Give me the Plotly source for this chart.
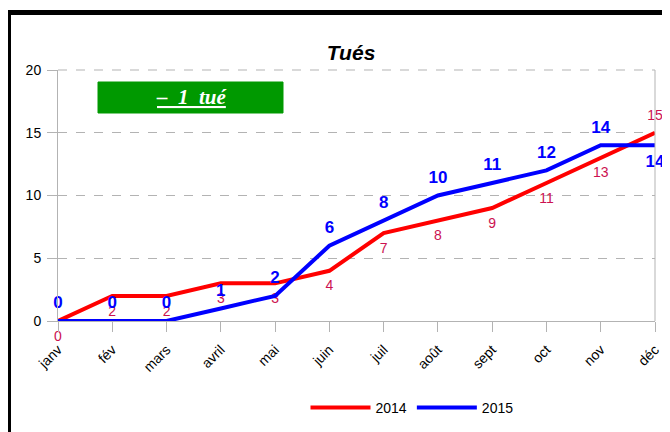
import plotly.graph_objects as go

months = ["janv", "fév", "mars", "avril", "mai", "juin", "juil", "août", "sept", "oct", "nov", "déc"]
vals_2014 = [0, 2, 2, 3, 3, 4, 7, 8, 9, 11, 13, 15]
vals_2015 = [0, 0, 0, 1, 2, 6, 8, 10, 11, 12, 14, 14]
pos_2014 = ["bottom center"] * 11 + ["top center"]
pos_2015 = ["top center"] * 11 + ["bottom center"]

OFF = 8  # default page body margin
W, H = 670 - OFF, 432 - OFF
L, T = 58 - OFF, 70 - OFF
R = W - (655 - OFF)
B = H - (321 - OFF)
pw, ph = W - L - R, H - T - B

def px(x):  # screen x -> paper
    return (x - OFF - L) / pw

def py(y):  # screen y -> paper
    return (H - B - (y - OFF)) / ph

clear = "rgba(0,0,0,0)"

fig = go.Figure()
fig.add_trace(go.Scatter(
    x=months, y=vals_2014, name="2014", mode="lines+markers+text",
    line=dict(color="#ff0000", width=4),
    marker=dict(size=13, color=clear, line=dict(width=0, color=clear)),
    text=[str(v) for v in vals_2014], textposition=pos_2014,
    textfont=dict(color="#cc1150", size=14, family="Liberation Sans"),
    cliponaxis=False,
))
fig.add_trace(go.Scatter(
    x=months, y=vals_2015, name="2015", mode="lines+markers+text",
    line=dict(color="#0000ff", width=4),
    marker=dict(size=12, color=clear, line=dict(width=0, color=clear)),
    text=["<b>%d</b>" % v for v in vals_2015], textposition=pos_2015,
    textfont=dict(color="#0000ff", size=17, family="Liberation Sans"),
    cliponaxis=False,
))

fig.update_layout(
    width=W, height=H,
    margin=dict(l=L, r=R, t=T, b=B, autoexpand=False),
    paper_bgcolor="white", plot_bgcolor="white",
    font=dict(family="Liberation Sans", color="black", size=14),
    title=dict(text="<b><i>Tués</i></b>", x=(351 - OFF) / W, xanchor="center",
               y=1 - (53 - OFF) / H, yanchor="middle",
               font=dict(size=21, family="Liberation Sans", color="black")),
    showlegend=True,
    legend=dict(orientation="h", x=(412 - OFF) / W, xref="container", xanchor="center",
                y=1 - (408 - OFF) / H, yref="container", yanchor="middle",
                font=dict(size=14), traceorder="normal", itemwidth=60),
    xaxis=dict(type="category", range=[0, 11], showgrid=False, automargin=False,
               showline=True, linecolor="#b3b3b3", linewidth=1, mirror=False,
               ticks="outside", ticklen=10, tickcolor="#b3b3b3",
               ticklabelstandoff=4,
               tickangle=-45, tickfont=dict(size=14), zeroline=False),
    yaxis=dict(range=[0, 20], dtick=5, showgrid=True, gridcolor="#b3b3b3",
               griddash="dash", gridwidth=1, automargin=False,
               showline=True, linecolor="#b3b3b3", linewidth=1,
               ticks="outside", ticklen=10, tickcolor="#b3b3b3",
               ticklabelstandoff=3,
               tickfont=dict(size=14), zeroline=False),
)

# right border of plot area
fig.add_shape(type="line", xref="paper", yref="paper", x0=1, x1=1, y0=0, y1=1,
              line=dict(color="#b3b3b3", width=1))
# top dashed line
fig.add_shape(type="line", xref="paper", yref="paper", x0=0, x1=1, y0=1, y1=1,
              line=dict(color="#b3b3b3", width=1, dash="dash"))

# outer black frame (top and left)
fig.add_shape(type="line", xref="paper", yref="paper",
              x0=px(6), x1=px(680), y0=py(12.5), y1=py(12.5),
              line=dict(color="black", width=5))
fig.add_shape(type="line", xref="paper", yref="paper",
              x0=px(8.5), x1=px(8.5), y0=py(10), y1=py(445),
              line=dict(color="black", width=5))

# green box
fig.add_shape(type="rect", xref="paper", yref="paper",
              x0=px(98), x1=px(283), y0=py(113), y1=py(82),
              fillcolor="#009900", line=dict(color="#009900", width=1))
fig.add_annotation(xref="paper", yref="paper", x=px(191), y=py(97),
                   text="<b><i><u>–  1  tué</u></i></b>", showarrow=False,
                   font=dict(family="Liberation Serif", size=21, color="white"),
                   xanchor="center", yanchor="middle")

fig.write_html("out.html")
